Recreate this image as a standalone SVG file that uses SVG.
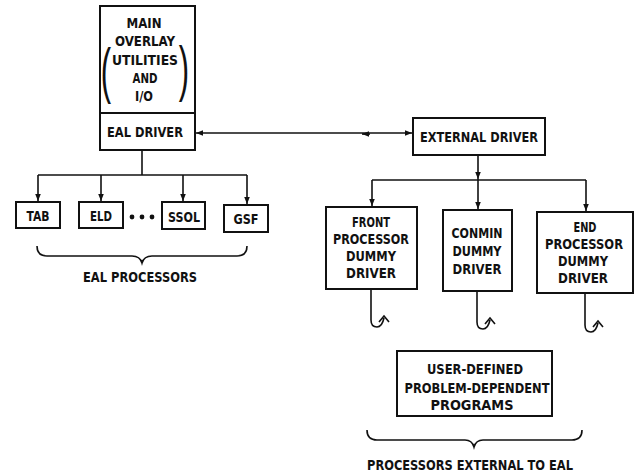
<svg xmlns="http://www.w3.org/2000/svg" width="643" height="476" viewBox="0 0 643 476">
<defs>
<style>
.box{fill:#fff;stroke:#111;stroke-width:2}
.ln{fill:none;stroke:#111;stroke-width:1.6}
.t{font-family:"Liberation Sans Narrow","DejaVu Sans Condensed","Liberation Sans",sans-serif;font-size:13.5px;font-weight:bold;fill:#111;text-anchor:middle}
.par{font-family:"Liberation Sans","DejaVu Sans",sans-serif;font-size:62px;fill:#111;text-anchor:middle}
</style>
<marker id="ah" viewBox="0 0 10 10" refX="10" refY="5" markerWidth="7" markerHeight="7" markerUnits="userSpaceOnUse" orient="auto-start-reverse">
<path d="M0,1 L10,5 L0,9 Z" fill="#111"/>
</marker>
</defs>
<rect width="643" height="476" fill="#fff"/>

<g id="connectors">
<path class="ln" d="M142,150 V175"/>
<path class="ln" d="M38,175 H247"/>
<path class="ln" d="M38,175 V201" marker-end="url(#ah)"/>
<path class="ln" d="M101,175 V201" marker-end="url(#ah)"/>
<path class="ln" d="M183,175 V201" marker-end="url(#ah)"/>
<path class="ln" d="M247,175 V204" marker-end="url(#ah)"/>
<path class="ln" d="M196,133 H412" marker-start="url(#ah)" marker-end="url(#ah)"/>
<path class="ln" d="M370,134 H362" marker-end="url(#ah)"/>
<path class="ln" d="M478,155 V179" marker-end="url(#ah)"/>
<path class="ln" d="M478,179 V209" marker-end="url(#ah)"/>
<path class="ln" d="M372,180 H586"/>
<path class="ln" d="M372,180 V206" marker-end="url(#ah)"/>
<path class="ln" d="M586,180 V211" marker-end="url(#ah)"/>
<path class="ln" d="M371,289 V320 Q371,327 377,327 Q382,327 384,318 M379,322 L384,316 L389,322"/>
<path class="ln" d="M477,291 V322 Q477,329 483,329 Q488,329 490,320 M485,324 L490,318 L495,324"/>
<path class="ln" d="M585,293 V325 Q585,332 591,332 Q596,332 598,323 M593,327 L598,321 L603,327"/>
</g>

<g id="main-overlay">
<rect class="box" x="100" y="6" width="95" height="107"/>
<text class="t" x="144" y="28" textLength="35" lengthAdjust="spacingAndGlyphs">MAIN</text>
<text class="t" x="145" y="46" textLength="60" lengthAdjust="spacingAndGlyphs">OVERLAY</text>
<text class="t" x="145" y="65" textLength="66" lengthAdjust="spacingAndGlyphs">UTILITIES</text>
<text class="t" x="145" y="83" textLength="25" lengthAdjust="spacingAndGlyphs">AND</text>
<text class="t" x="144" y="101" textLength="18" lengthAdjust="spacingAndGlyphs">I/O</text>
<text class="par" transform="scale(0.5,1)" x="212" y="91">(</text>
<text class="par" transform="scale(0.5,1)" x="368" y="89">)</text>
</g>

<g id="eal-driver">
<rect class="box" x="100" y="113" width="95" height="37"/>
<text class="t" x="145" y="137" textLength="76" lengthAdjust="spacingAndGlyphs">EAL DRIVER</text>
</g>

<g id="tab">
<rect class="box" x="16" y="202" width="44" height="26"/>
<text class="t" x="38" y="221" textLength="23" lengthAdjust="spacingAndGlyphs">TAB</text>
</g>
<g id="eld">
<rect class="box" x="79" y="202" width="44" height="26"/>
<text class="t" x="101" y="221" textLength="22" lengthAdjust="spacingAndGlyphs">ELD</text>
</g>
<g id="dots">
<circle cx="132" cy="217" r="2.4" fill="#111"/>
<circle cx="142" cy="217" r="2.4" fill="#111"/>
<circle cx="152" cy="217" r="2.4" fill="#111"/>
</g>
<g id="ssol">
<rect class="box" x="162" y="202" width="43" height="27"/>
<text class="t" x="184" y="222" textLength="32" lengthAdjust="spacingAndGlyphs">SSOL</text>
</g>
<g id="gsf">
<rect class="box" x="224" y="205" width="44" height="27"/>
<text class="t" x="246" y="224" textLength="25" lengthAdjust="spacingAndGlyphs">GSF</text>
</g>
<g id="eal-processors-label">
<path class="ln" d="M37,246 Q37,256 47,256 L132,256 Q140,256 142,263 Q144,256 152,256 L237,256 Q247,256 247,246"/>
<text class="t" x="140" y="282" textLength="114" lengthAdjust="spacingAndGlyphs">EAL PROCESSORS</text>
</g>

<g id="external-driver">
<rect class="box" x="413" y="118" width="132" height="37"/>
<text class="t" x="479" y="142" textLength="118" lengthAdjust="spacingAndGlyphs">EXTERNAL DRIVER</text>
</g>

<g id="front-processor">
<rect class="box" x="326" y="207" width="91" height="82"/>
<text class="t" x="371" y="227" textLength="38" lengthAdjust="spacingAndGlyphs">FRONT</text>
<text class="t" x="371" y="244" textLength="76" lengthAdjust="spacingAndGlyphs">PROCESSOR</text>
<text class="t" x="371" y="261" textLength="50" lengthAdjust="spacingAndGlyphs">DUMMY</text>
<text class="t" x="371" y="278" textLength="50" lengthAdjust="spacingAndGlyphs">DRIVER</text>
</g>
<g id="conmin">
<rect class="box" x="443" y="210" width="69" height="81"/>
<text class="t" x="477" y="238" textLength="51" lengthAdjust="spacingAndGlyphs">CONMIN</text>
<text class="t" x="477" y="256" textLength="49" lengthAdjust="spacingAndGlyphs">DUMMY</text>
<text class="t" x="477" y="274" textLength="49" lengthAdjust="spacingAndGlyphs">DRIVER</text>
</g>
<g id="end-processor">
<rect class="box" x="537" y="212" width="96" height="81"/>
<text class="t" x="585" y="232" textLength="23" lengthAdjust="spacingAndGlyphs">END</text>
<text class="t" x="584" y="249" textLength="78" lengthAdjust="spacingAndGlyphs">PROCESSOR</text>
<text class="t" x="583" y="266" textLength="50" lengthAdjust="spacingAndGlyphs">DUMMY</text>
<text class="t" x="583" y="283" textLength="50" lengthAdjust="spacingAndGlyphs">DRIVER</text>
</g>

<g id="user-defined">
<rect class="box" x="397" y="351" width="155" height="65"/>
<text class="t" x="475" y="374" textLength="96" lengthAdjust="spacingAndGlyphs">USER-DEFINED</text>
<text class="t" x="477" y="393" textLength="145" lengthAdjust="spacingAndGlyphs">PROBLEM-DEPENDENT</text>
<text class="t" x="472" y="410" textLength="83" lengthAdjust="spacingAndGlyphs">PROGRAMS</text>
</g>
<g id="external-label">
<path class="ln" d="M367,430 Q367,440 377,440 L465,440 Q472,440 474,447 Q476,440 483,440 L572,440 Q582,440 582,430"/>
<text class="t" x="470" y="470" textLength="206" lengthAdjust="spacingAndGlyphs">PROCESSORS EXTERNAL TO EAL</text>
</g>
</svg>
